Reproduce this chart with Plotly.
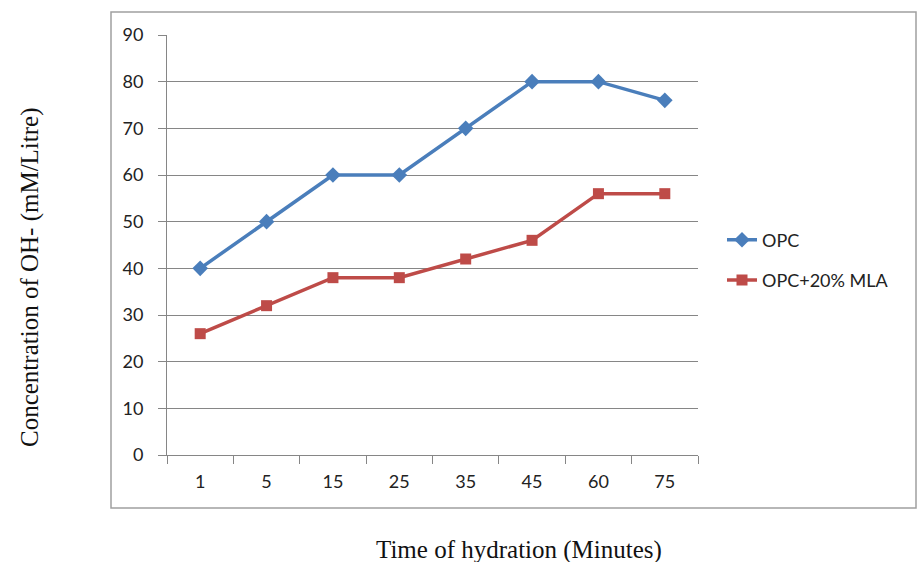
import plotly.graph_objects as go

categories = ["1", "5", "15", "25", "35", "45", "60", "75"]
opc = [40, 50, 60, 60, 70, 80, 80, 76]
opc_mla = [26, 32, 38, 38, 42, 46, 56, 56]
y_ticks = [0, 10, 20, 30, 40, 50, 60, 70, 80, 90]

W, H = 917, 562
L, R, T, B = 167, 219, 35, 107
pw, ph = W - L - R, H - T - B

def px(x):
    return (x - L) / pw

def py(y):
    return (H - B - y) / ph

grid = "#868686"
tickfont = dict(family="Lato, Open Sans, sans-serif", size=18, color="#222222")

fig = go.Figure()
fig.add_trace(go.Scatter(
    x=categories, y=opc, name="OPC", mode="lines+markers",
    line=dict(color="#4A7EBB", width=3.5),
    marker=dict(symbol="diamond", size=12, color="#4A7EBB"),
    legendgroup="a"))
fig.add_trace(go.Scatter(
    x=categories, y=opc_mla, name="OPC+20% MLA", mode="lines+markers",
    line=dict(color="#BE4B48", width=3.5),
    marker=dict(symbol="square", size=11, color="#BE4B48"),
    legendgroup="b"))

fig.update_layout(
    width=W, height=H,
    margin=dict(l=L, r=R, t=T, b=B),
    paper_bgcolor="white", plot_bgcolor="white",
    showlegend=True,
    legend=dict(x=px(722), y=py(260), xanchor="left", yanchor="middle",
                font=dict(family="Lato, Open Sans, sans-serif", size=18, color="#222222"),
                tracegroupgap=14, bgcolor="rgba(0,0,0,0)"),
    xaxis=dict(type="category", categoryorder="array", categoryarray=categories,
               range=[-0.5, len(categories) - 0.5],
               showline=True, linecolor=grid, linewidth=1,
               ticks="outside", tickson="boundaries", ticklen=8, tickcolor=grid,
               showgrid=False, tickfont=tickfont, ticklabelstandoff=10,
               zeroline=False),
    yaxis=dict(range=[0, 90], tickvals=y_ticks,
               showline=True, linecolor=grid, linewidth=1,
               ticks="outside", ticklen=8, tickcolor=grid,
               showgrid=True, gridcolor=grid, gridwidth=1,
               tickfont=tickfont, ticklabelstandoff=11, zeroline=False),
)

fig.add_shape(type="rect", xref="paper", yref="paper",
              x0=px(111), x1=px(916), y0=py(508), y1=py(12),
              line=dict(color="#A0A0A0", width=1.5), fillcolor="rgba(0,0,0,0)",
              layer="below")

fig.add_annotation(text="Concentration of OH- (mM/Litre)", textangle=-90,
                   xref="paper", yref="paper", x=px(30), y=py(277),
                   xanchor="center", yanchor="middle", showarrow=False,
                   font=dict(family="Liberation Serif, Times New Roman, serif", size=25, color="#111111"))
fig.add_annotation(text="Time of hydration (Minutes)",
                   xref="paper", yref="paper", x=px(519), y=py(550),
                   xanchor="center", yanchor="middle", showarrow=False,
                   font=dict(family="Liberation Serif, Times New Roman, serif", size=25, color="#111111"))

fig.write_html("out.html")
